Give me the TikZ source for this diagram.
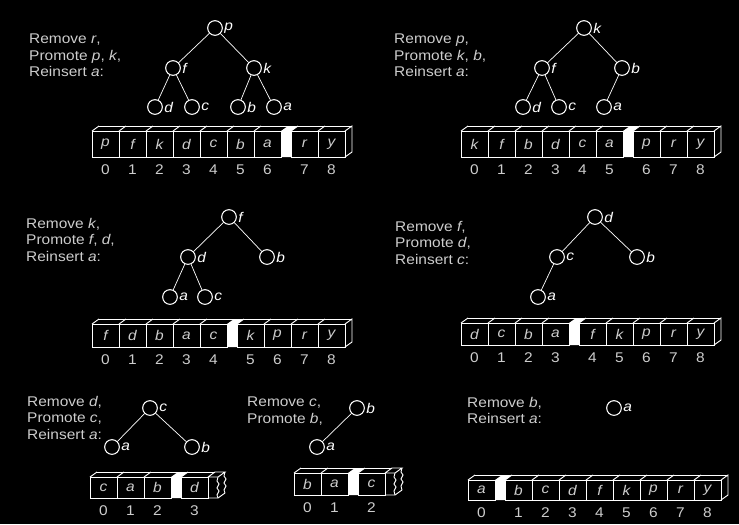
\documentclass[tikz,border=0pt]{standalone}
\usepackage{fontspec}
\setmainfont[FakeStretch=1.1]{Liberation Sans}
\usepackage{tikz}
\definecolor{chalk}{RGB}{205,205,205}

% #1 name, #2 top left of the front face, #3 face height,
% #4 cells in front of the gap, #5 how many, #6 cells behind it, #7 right end
\newcommand{\heapstrip}[7]{%
  \begin{scope}[shift={#2}]
    \def\heaph{#3}
    \foreach \v [count=\i from 0] in {#4} {
      \node[cell, minimum height=#3*0.03cm] (#1-\i) at (27*\i+13.5,#3/2) {\v};
      \node[digit] at (27*\i+13.5,#3+13) {\i};
      \draw[rim] (27*\i,0) -- ++(7,-5);
    }
    \foreach \v [count=\i from #5] in {#6} {
      \node[cell, minimum height=#3*0.03cm] (#1-\i) at (27*\i+23.5,#3/2) {\v};
      \node[digit] at (27*\i+23.5,#3+13) {\i};
      \draw[rim] (27*\i+10,0) -- ++(7,-5);
      \xdef\heaplast{\i}
    }
    \pgfmathsetmacro\heapW{27*\heaplast+37}
    \draw[rim] (7,-5) -- (\heapW+7,-5);
    \fill[white] (27*#5,0) rectangle ++(10,#3)
                 (27*#5,0) -- ++(7,-5) -- ++(10,0) -- ++(-7,5) -- cycle;
    #7
  \end{scope}}
\newcommand{\heapcap}{%
  \draw[rim] (\heapW,0) -- ++(7,-5) -- ++(0,\heaph) -- ++(-7,5);}
\newcommand{\heapbreak}{%
  \draw[rim] (\heapW,0) -- ++(10,0) -- ++(7,-5) -- ++(-10,0)
             (\heapW,0) -- ++(7,-5)
             (\heapW,\heaph) -- ++(10,0) -- ++(7,-5);
  \draw[rim] (\heapW+10,0) -- ++(-1,4) -- ++(2,3) -- ++(-2,4) -- ++(2,3) -- ++(-2,4) -- (\heapW+10,\heaph)
             (\heapW+17,-5) -- ++(-1,4) -- ++(2,3) -- ++(-2,4) -- ++(2,3) -- ++(-2,4) -- (\heapW+17,\heaph-5);}

\begin{document}
\begin{tikzpicture}[x=0.03cm, y=-0.03cm,
    font=\fontsize{12}{14.1}\selectfont,
    heapnode/.style={circle, draw=white, line width=0.9pt, minimum size=0.44cm,
                     inner sep=0pt, label distance=0.5pt,
                     label={[text=white, inner sep=1pt, font=\fontsize{12}{14}\selectfont\itshape]right:#1}},
    branch/.style={white, line width=0.6pt},
    note/.style={text=chalk, align=left, anchor=north west, inner sep=0pt},
    cell/.style={draw=white, line width=0.8pt, minimum width=0.81cm, inner sep=0pt,
                 text=chalk, font=\fontsize{12}{14}\selectfont\itshape},
    digit/.style={text=chalk, inner sep=0pt},
    rim/.style={white, line width=0.8pt}]
  \fill[black] (0,0) rectangle (739,524);

  % remove r
  \node[note] (t1) at (29,34) {Remove \textit{r},\\Promote \textit{p}, \textit{k},\\Reinsert \textit{a}:};
  \node[heapnode=p] (p1) at (215,28) {};
  \node[heapnode=f] (f1) at (173,68) {};
  \node[heapnode=k] (k1) at (254,68) {};
  \node[heapnode=d] (d1) at (155,107) {};
  \node[heapnode=c] (c1) at (192,107) {};
  \node[heapnode=b] (b1) at (238,107) {};
  \node[heapnode=a] (a1) at (274,107) {};
  \draw[branch] (p1) -- (f1) (p1) -- (k1) (f1) -- (d1) (f1) -- (c1) (k1) -- (b1) (k1) -- (a1);
  \heapstrip{s1}{(92,131)}{26}{p,f,k,d,c,b,a}{7}{r,y}{\heapcap}

  % remove p
  \node[note] (t2) at (394,34) {Remove \textit{p},\\Promote \textit{k}, \textit{b},\\Reinsert \textit{a}:};
  \node[heapnode=k] (k2) at (584,28) {};
  \node[heapnode=f] (f2) at (542,68) {};
  \node[heapnode=b] (b2) at (622,68) {};
  \node[heapnode=d] (d2) at (523,107) {};
  \node[heapnode=c] (c2) at (559,107) {};
  \node[heapnode=a] (a2) at (604,107) {};
  \draw[branch] (k2) -- (f2) (k2) -- (b2) (f2) -- (d2) (f2) -- (c2) (b2) -- (a2);
  \heapstrip{s2}{(461,131)}{26}{k,f,b,d,c,a}{6}{p,r,y}{\heapcap}

  % remove k
  \node[note] (t3) at (26,218) {Remove \textit{k},\\Promote \textit{f}, \textit{d},\\Reinsert \textit{a}:};
  \node[heapnode=f] (f3) at (229,217) {};
  \node[heapnode=d] (d3) at (188,257) {};
  \node[heapnode=b] (b3) at (267,257) {};
  \node[heapnode=a] (a3) at (170,297) {};
  \node[heapnode=c] (c3) at (205,297) {};
  \draw[branch] (f3) -- (d3) (f3) -- (b3) (d3) -- (a3) (d3) -- (c3);
  \heapstrip{s3}{(92,324)}{23}{f,d,b,a,c}{5}{k,p,r,y}{\heapcap}

  % remove f
  \node[note] (t4) at (395,221) {Remove \textit{f},\\Promote \textit{d},\\Reinsert \textit{c}:};
  \node[heapnode=d] (d4) at (595,217) {};
  \node[heapnode=c] (c4) at (557,257) {};
  \node[heapnode=b] (b4) at (637,257) {};
  \node[heapnode=a] (a4) at (538,297) {};
  \draw[branch] (d4) -- (c4) (d4) -- (b4) (c4) -- (a4);
  \heapstrip{s4}{(461,323)}{22}{d,c,b,a}{4}{f,k,p,r,y}{\heapcap}

  % remove d
  \node[note] (t5) at (27,396) {Remove \textit{d},\\Promote \textit{c},\\Reinsert \textit{a}:};
  \node[heapnode=c] (c5) at (150,408) {};
  \node[heapnode=a] (a5) at (112,447) {};
  \node[heapnode=b] (b5) at (192,447) {};
  \draw[branch] (c5) -- (a5) (c5) -- (b5);
  \heapstrip{s5}{(90,477)}{21}{c,a,b}{3}{d}{\heapbreak}

  % remove c
  \node[note] (t6) at (247,397) {Remove \textit{c},\\Promote \textit{b},};
  \node[heapnode=b] (b6) at (357,408) {};
  \node[heapnode=a] (a6) at (317,447) {};
  \draw[branch] (b6) -- (a6);
  \heapstrip{s6}{(294,473)}{22}{b,a}{2}{c}{\heapbreak}

  % remove b
  \node[note] (t7) at (467,397) {Remove \textit{b},\\Reinsert \textit{a}:};
  \node[heapnode=a] (a7) at (614,408) {};
  \heapstrip{s7}{(468,480)}{20}{a}{1}{b,c,d,f,k,p,r,y}{\heapcap}
\end{tikzpicture}
\end{document}
